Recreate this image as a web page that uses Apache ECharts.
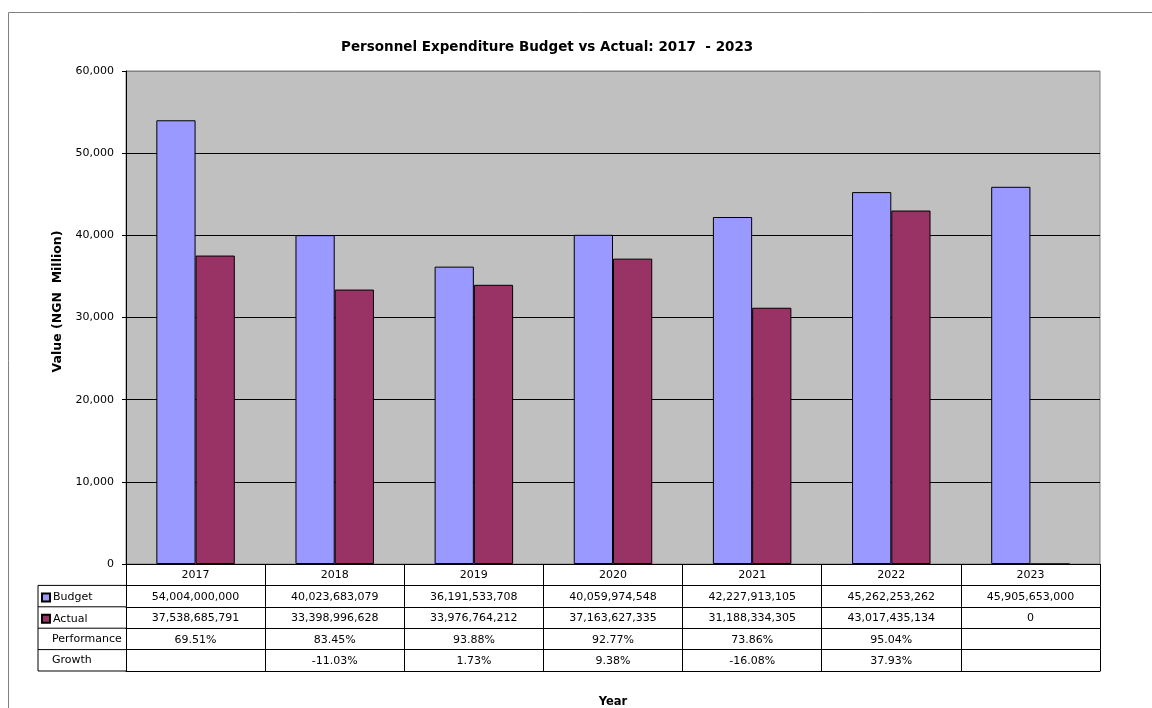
<!DOCTYPE html>
<html>
<head>
<meta charset="utf-8">
<style>
  html, body { margin: 0; padding: 0; background: #ffffff; }
  #chart { width: 1152px; height: 708px; }
</style>
<script src="https://cdn.jsdelivr.net/npm/echarts@6/dist/echarts.min.js"></script>
</head>
<body>
<div id="chart"></div>
<script>
// Personnel expenditure, budget vs actual (NGN), 2017-2023
const years = ['2017', '2018', '2019', '2020', '2021', '2022', '2023'];
const budget = [54004000000, 40023683079, 36191533708, 40059974548, 42227913105, 45262253262, 45905653000];
const actual = [37538685791, 33398996628, 33976764212, 37163627335, 31188334305, 43017435134, 0];
const performance = [69.51, 83.45, 93.88, 92.77, 73.86, 95.04, null];
const growth = [null, -11.03, 1.73, 9.38, -16.08, 37.93, null];
const yTicks = [0, 10000, 20000, 30000, 40000, 50000, 60000];

const FONT = 'DejaVu Sans';
const GRID = { left: 126, right: 52, top: 71, bottom: 144 };
const ROW_H = 21.4;
const TABLE_LEFT = 38;
const PLOT_BOTTOM = 708 - GRID.bottom;

const toMillion = v => v / 1e6;
const fmtInt = v => v.toLocaleString('en-US');
const fmtPct = v => (v === null || v === undefined) ? '' : v.toFixed(2) + '%';

// rows of the data table under the plot
const tableRows = [
  years.map(y => y),
  budget.map(fmtInt),
  actual.map(fmtInt),
  performance.map(fmtPct),
  growth.map(fmtPct)
];

const xAxes = tableRows.map((row, k) => ({
  type: 'category',
  gridIndex: 0,
  position: 'bottom',
  offset: k * ROW_H,
  data: years,
  axisLine: { show: true, lineStyle: { color: '#000', width: 1 } },
  axisTick: { show: true, length: ROW_H, interval: 0, lineStyle: { color: '#000', width: 1 } },
  axisLabel: {
    show: true, interval: 0, margin: 6,
    fontFamily: FONT, fontSize: 11, color: '#000',
    formatter: (val, idx) => row[idx]
  },
  splitLine: { show: false }
}));
// closing line of the table, carrying the axis title
xAxes.push({
  type: 'category',
  gridIndex: 0,
  position: 'bottom',
  offset: tableRows.length * ROW_H,
  data: years,
  axisLine: { show: true, lineStyle: { color: '#000', width: 1 } },
  axisTick: { show: false },
  axisLabel: { show: false },
  name: 'Year',
  nameLocation: 'middle',
  nameGap: 25,
  nameTextStyle: { fontFamily: FONT, fontSize: 11.5, fontWeight: 'bold', color: '#000' }
});

const rowLabelTop = k => PLOT_BOTTOM + k * ROW_H;

const option = {
  animation: false,
  backgroundColor: '#ffffff',
  textStyle: { fontFamily: FONT },
  title: {
    text: 'Personnel Expenditure Budget vs Actual: 2017  - 2023',
    left: 336, top: 35,
    textStyle: { fontFamily: FONT, fontSize: 13.5, fontWeight: 'bold', color: '#000' }
  },
  legend: {
    orient: 'vertical',
    left: 41,
    top: rowLabelTop(1) + 5,
    padding: 0,
    itemGap: ROW_H - 14,
    itemWidth: 8,
    itemHeight: 8,
    icon: 'rect',
    textStyle: { fontFamily: FONT, fontSize: 11, color: '#000', lineHeight: 14, padding: [0, 0, 0, -2] },
    data: ['Budget', 'Actual']
  },
  grid: {
    left: GRID.left, right: GRID.right, top: GRID.top, bottom: GRID.bottom,
    containLabel: false,
    outerBoundsMode: 'none',
    show: true, backgroundColor: '#C0C0C0', borderColor: '#808080', borderWidth: 1
  },
  xAxis: xAxes,
  yAxis: {
    type: 'value',
    min: yTicks[0],
    max: yTicks[yTicks.length - 1],
    interval: yTicks[1] - yTicks[0],
    name: 'Value (NGN  Million)',
    nameLocation: 'middle',
    nameRotate: 90,
    nameGap: 61,
    nameTextStyle: { fontFamily: FONT, fontSize: 12.5, fontWeight: 'bold', color: '#000', padding: [0, 0, 0, 32] },
    axisLine: { show: true, lineStyle: { color: '#000', width: 1 } },
    axisTick: { show: true, length: 4, lineStyle: { color: '#000' } },
    axisLabel: {
      margin: 12, fontFamily: FONT, fontSize: 11, color: '#000',
      formatter: v => fmtInt(v)
    },
    splitLine: {
      show: true,
      lineStyle: { color: ['#000', '#000', '#000', '#000', '#000', '#000', '#808080'], width: 1 }
    }
  },
  series: [
    {
      name: 'Budget', type: 'bar', xAxisIndex: 0,
      data: budget.map(toMillion),
      barGap: '0%', barCategoryGap: '43.6%',
      itemStyle: { color: '#9999FF', borderColor: '#000', borderWidth: 1 }
    },
    {
      name: 'Actual', type: 'bar', xAxisIndex: 0,
      data: actual.map(toMillion),
      barGap: '0%', barCategoryGap: '43.6%',
      itemStyle: { color: '#993366', borderColor: '#000', borderWidth: 1 }
    }
  ],
  graphic: [
    // outer chart frame
    { type: 'rect', shape: { x: 8.5, y: 12.5, width: 1300, height: 900 },
      style: { fill: 'none', stroke: '#808080', lineWidth: 1 }, silent: true, z: 0 },
    // row header column of the data table
    { type: 'line', shape: { x1: TABLE_LEFT, y1: rowLabelTop(1), x2: GRID.left, y2: rowLabelTop(1) },
      style: { stroke: '#000', lineWidth: 1 }, z: 10 },
    { type: 'line', shape: { x1: TABLE_LEFT, y1: rowLabelTop(2), x2: GRID.left, y2: rowLabelTop(2) },
      style: { stroke: '#000', lineWidth: 1 }, z: 10 },
    { type: 'line', shape: { x1: TABLE_LEFT, y1: rowLabelTop(3), x2: GRID.left, y2: rowLabelTop(3) },
      style: { stroke: '#000', lineWidth: 1 }, z: 10 },
    { type: 'line', shape: { x1: TABLE_LEFT, y1: rowLabelTop(4), x2: GRID.left, y2: rowLabelTop(4) },
      style: { stroke: '#000', lineWidth: 1 }, z: 10 },
    { type: 'line', shape: { x1: TABLE_LEFT, y1: rowLabelTop(5), x2: GRID.left, y2: rowLabelTop(5) },
      style: { stroke: '#000', lineWidth: 1 }, z: 10 },
    { type: 'line', shape: { x1: TABLE_LEFT, y1: rowLabelTop(1), x2: TABLE_LEFT, y2: rowLabelTop(5) },
      style: { stroke: '#000', lineWidth: 1 }, z: 10 },
    { type: 'text', left: 52, top: rowLabelTop(3) + 5,
      style: { text: 'Performance', font: '11px "DejaVu Sans"', fill: '#000' }, z: 10 },
    { type: 'text', left: 52, top: rowLabelTop(4) + 5,
      style: { text: 'Growth', font: '11px "DejaVu Sans"', fill: '#000' }, z: 10 }
  ]
};

const chart = echarts.init(document.getElementById('chart'), null, { renderer: 'canvas' });
chart.setOption(option);
</script>
</body>
</html>
